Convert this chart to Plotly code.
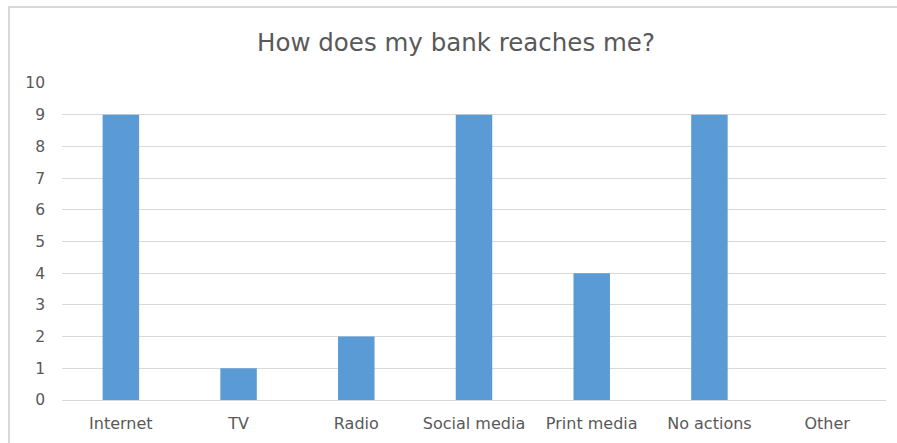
import plotly.graph_objects as go

categories = ["Internet", "TV", "Radio", "Social media", "Print media", "No actions", "Other"]
values = [9, 1, 2, 9, 4, 9, 0]
y_ticks = list(range(0, 11))

W, H = 897, 443
L, R, T, B = 62, 11, 83, 43
pw = W - L - R
ph = H - T - B

fig = go.Figure(go.Bar(x=categories, y=values, marker=dict(color="#5b9bd5", line=dict(width=0)),
                       width=0.31))

font_family = "'DejaVu Sans', sans-serif"
fig.update_layout(
    width=W, height=H,
    margin=dict(l=L, r=R, t=T, b=B),
    paper_bgcolor="white", plot_bgcolor="white",
    title=dict(text="How does my bank reaches me?", x=(456 - L) / pw, xref="paper",
               xanchor="center", y=1 - 42 / H, yanchor="middle",
               font=dict(family=font_family, size=24.5, color="#595959")),
    font=dict(family=font_family, size=15, color="#595959"),
    showlegend=False,
    xaxis=dict(showgrid=False, showline=False, zeroline=False, ticks="",
               ticklabelstandoff=12,
               tickfont=dict(size=16, color="#595959"), range=[-0.5, 6.5]),
    yaxis=dict(range=[0, 10], tickvals=y_ticks, showgrid=True, gridcolor="#d9d9d9", gridwidth=1,
               zeroline=True, zerolinecolor="#d9d9d9", zerolinewidth=1, showline=False, ticks="",
               ticklabelstandoff=16,
               tickfont=dict(size=15.5, color="#595959")),
    shapes=[
        dict(type="rect", xref="paper", yref="paper",
             x0=(9 - L) / pw, x1=(W + 20 - L) / pw,
             y0=-(H + 20 - (T + ph)) / ph, y1=(T + ph - 7) / ph,
             line=dict(color="#d9d9d9", width=2), fillcolor="rgba(0,0,0,0)", layer="below"),
    ],
)

fig.write_html("out.html")
